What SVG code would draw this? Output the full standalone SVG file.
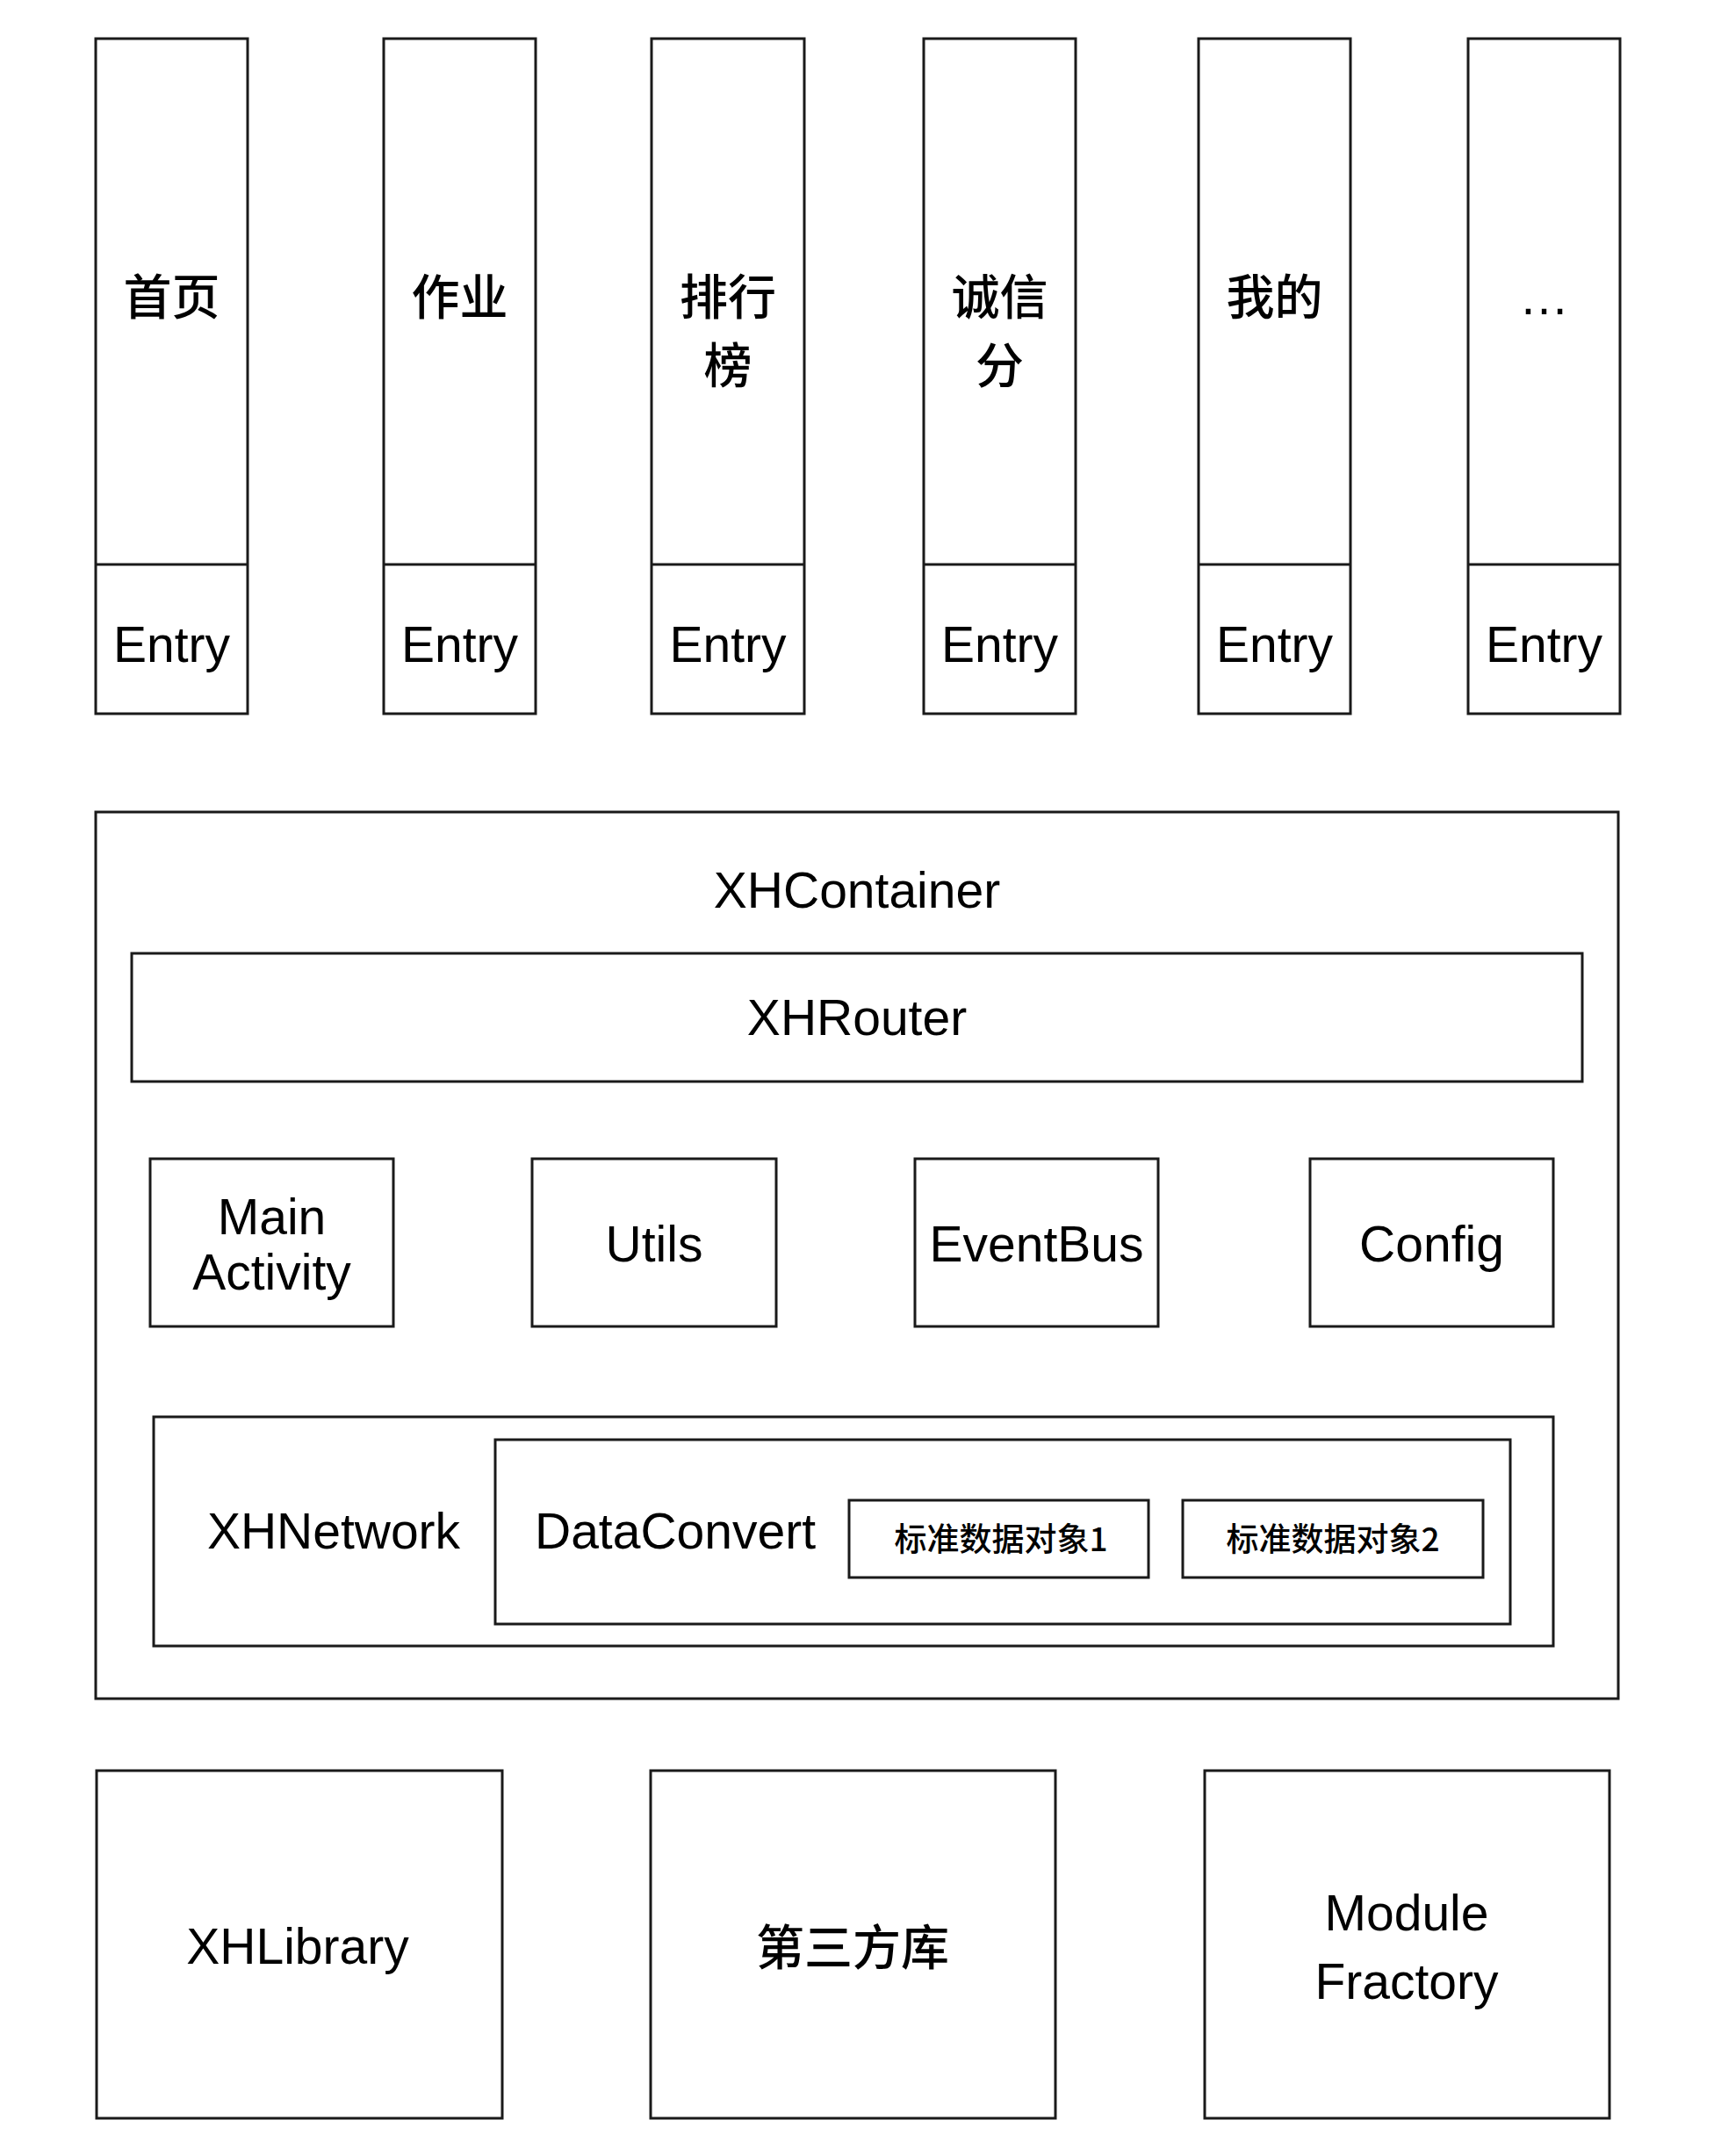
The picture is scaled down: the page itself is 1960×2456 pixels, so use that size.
<svg xmlns="http://www.w3.org/2000/svg" width="1960" height="2456" viewBox="0 0 1960 2456">
<style>
.box{fill:#fff;stroke:#1a1a1a;stroke-width:3}
.t{font-family:"Liberation Sans","Noto Sans CJK SC",sans-serif;font-size:57px;fill:#000;text-anchor:middle}
.c{font-family:"Noto Sans CJK SC","Liberation Sans",sans-serif;font-size:55px;font-weight:500;fill:#000;text-anchor:middle}
.s{font-family:"Noto Sans CJK SC","Liberation Sans",sans-serif;font-size:37px;font-weight:500;fill:#000;text-anchor:middle}
</style>
<rect width="1960" height="2456" fill="#fff"/>
<g id="col-shouye">
<rect class="box" x="109" y="44" width="173" height="769"/>
<line class="box" x1="109" y1="643" x2="282" y2="643"/>
<text class="c" x="195.5" y="358">首页</text>
<text class="t" x="195.5" y="754">Entry</text>
</g>
<g id="col-zuoye">
<rect class="box" x="437" y="44" width="173" height="769"/>
<line class="box" x1="437" y1="643" x2="610" y2="643"/>
<text class="c" x="523.5" y="358">作业</text>
<text class="t" x="523.5" y="754">Entry</text>
</g>
<g id="col-paihangbang">
<rect class="box" x="742" y="44" width="174" height="769"/>
<line class="box" x1="742" y1="643" x2="916" y2="643"/>
<text class="c" x="829" y="358">排行</text>
<text class="c" x="829" y="436">榜</text>
<text class="t" x="829" y="754">Entry</text>
</g>
<g id="col-chengxinfen">
<rect class="box" x="1052" y="44" width="173" height="769"/>
<line class="box" x1="1052" y1="643" x2="1225" y2="643"/>
<text class="c" x="1138.5" y="358">诚信</text>
<text class="c" x="1138.5" y="436">分</text>
<text class="t" x="1138.5" y="754">Entry</text>
</g>
<g id="col-wode">
<rect class="box" x="1365" y="44" width="173" height="769"/>
<line class="box" x1="1365" y1="643" x2="1538" y2="643"/>
<text class="c" x="1451.5" y="358">我的</text>
<text class="t" x="1451.5" y="754">Entry</text>
</g>
<g id="col-more">
<rect class="box" x="1672" y="44" width="173" height="769"/>
<line class="box" x1="1672" y1="643" x2="1845" y2="643"/>
<text class="t" x="1758.5" y="358">…</text>
<text class="t" x="1758.5" y="754">Entry</text>
</g>
<g id="xhcontainer">
<rect class="box" x="109" y="925" width="1734" height="1010"/>
<text class="t" x="976" y="1034">XHContainer</text>
</g>
<g id="xhrouter">
<rect class="box" x="150" y="1086" width="1652" height="146"/>
<text class="t" x="976" y="1179">XHRouter</text>
</g>
<g id="mainactivity">
<rect class="box" x="171" y="1320" width="277" height="191"/>
<text class="t" x="309.5" y="1406">Main</text>
<text class="t" x="309.5" y="1469">Activity</text>
</g>
<g id="utils">
<rect class="box" x="606" y="1320" width="278" height="191"/>
<text class="t" x="745" y="1437">Utils</text>
</g>
<g id="eventbus">
<rect class="box" x="1042" y="1320" width="277" height="191"/>
<text class="t" x="1180.5" y="1437">EventBus</text>
</g>
<g id="config">
<rect class="box" x="1492" y="1320" width="277" height="191"/>
<text class="t" x="1630.5" y="1437">Config</text>
</g>
<g id="xhnetwork">
<rect class="box" x="175" y="1614" width="1594" height="261"/>
<text class="t" x="380" y="1764">XHNetwork</text>
</g>
<g id="dataconvert">
<rect class="box" x="564" y="1640" width="1156" height="210"/>
<text class="t" x="769" y="1764">DataConvert</text>
</g>
<g id="obj1">
<rect class="box" x="967" y="1709" width="341" height="88"/>
<text class="s" x="1140" y="1767">标准数据对象1</text>
</g>
<g id="obj2">
<rect class="box" x="1347" y="1709" width="342" height="88"/>
<text class="s" x="1518" y="1767">标准数据对象2</text>
</g>
<g id="xhlibrary">
<rect class="box" x="110" y="2017" width="462" height="396"/>
<text class="t" x="339" y="2237">XHLibrary</text>
</g>
<g id="thirdparty">
<rect class="box" x="741" y="2017" width="461" height="396"/>
<text class="c" x="971" y="2238">第三方库</text>
</g>
<g id="modulefactory">
<rect class="box" x="1372" y="2017" width="461" height="396"/>
<text class="t" x="1602" y="2199">Module</text>
<text class="t" x="1602" y="2277">Fractory</text>
</g>
<g id="connectors"></g>
</svg>
